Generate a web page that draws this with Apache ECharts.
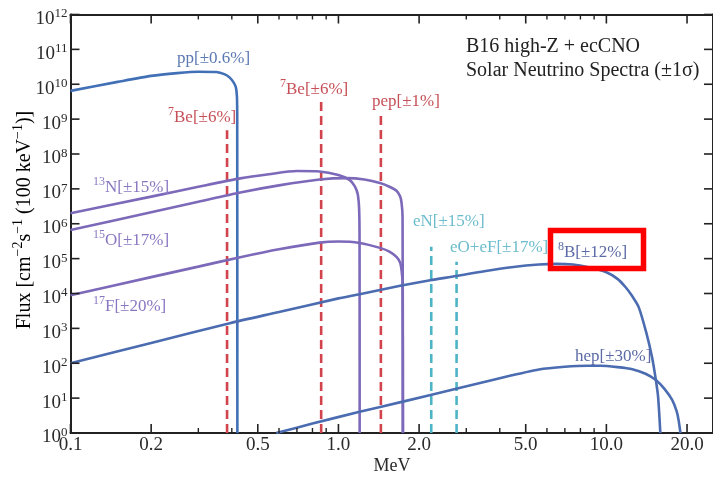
<!DOCTYPE html>
<html><head><meta charset="utf-8">
<style>html,body{margin:0;padding:0;background:#fff}#c{width:713px;height:477px}</style>
<script src="https://cdn.jsdelivr.net/npm/echarts@6/dist/echarts.min.js"></script>
</head><body><div id="c"></div>
<script>
// ---- data (MeV, flux in cm^-2 s^-1 per 100 keV) ----
const ppSpectrum = [[0.1,6.46e9],[0.15,1.17e10],[0.2,1.74e10],[0.25,2.09e10],[0.3,2.29e10],[0.35,2.24e10],[0.375,1.95e10],[0.393,1.55e10],[0.405,1.17e10],[0.414,8.3e9],[0.418,4.4e9],[0.419,1.0e9],[0.4195,1]];
const n13Spectrum = [[0.1,2.0e6],[0.2,6.0e6],[0.3,1.15e7],[0.43,2.0e7],[0.55,2.63e7],[0.7,3.24e7],[0.85,3.16e7],[1.0,2.51e7],[1.1,1.82e7],[1.15,1.2e7],[1.18,7.1e6],[1.195,2.5e6],[1.199,3.2e5],[1.2,1]];
const o15Spectrum = [[0.1,6.6e5],[0.2,2.14e6],[0.3,4.27e6],[0.43,7.9e6],[0.6,1.26e7],[0.85,1.86e7],[1.07,2.04e7],[1.25,1.86e7],[1.44,1.45e7],[1.55,1.15e7],[1.65,8.7e6],[1.7,6.0e6],[1.72,4.0e6],[1.735,1.6e6],[1.74,1]];
const f17Spectrum = [[0.1,8.9e3],[0.2,2.95e4],[0.3,5.9e4],[0.43,1.1e5],[0.6,1.86e5],[0.85,2.88e5],[1.0,3.09e5],[1.2,2.82e5],[1.44,2.0e5],[1.55,1.58e5],[1.65,1.1e5],[1.7,7.6e4],[1.72,4.7e4],[1.735,2.0e4],[1.74,1]];
const b8Spectrum = [[0.1,100],[0.2,380],[0.393,1410],[0.6,2950],[1.0,7240],[1.2,9550],[1.7,1.66e4],[2.2,2.4e4],[2.75,3.16e4],[3.5,4.37e4],[4.5,5.75e4],[5.6,6.76e4],[6.5,7.08e4],[7.5,6.76e4],[8.5,5.75e4],[10.0,4.07e4],[11.0,2.63e4],[11.8,1.51e4],[12.5,8300],[13.2,4070],[14.1,741],[14.8,151],[15.3,33],[15.6,10.7],[15.9,1]];
const hepSpectrum = [[0.586,1],[0.8,1.86],[1.2,4.07],[1.74,7.94],[2.8,19.1],[4.0,37.2],[5.6,66.1],[7.0,79.4],[8.5,85.1],[9.5,85.1],[11.0,77.6],[12.5,67.6],[14.0,50.1],[15.3,33.1],[16.5,18.2],[17.6,8.9],[18.3,4.17],[18.6,2.34],[18.9,1]];
// mono-energetic lines: [energy MeV, flux]
const be7Lines = [[0.384,4.8e8],[0.862,4.3e9]];
const pepLine = [[1.44,1.45e9]];
const ecnoLines = [[2.22,2.2e5],[2.76,8.1e4]];
// axes ticks
const xMajorTicks = [0.1,0.2,0.5,1,2,5,10,20];
const xTickLabels = ['0.1','0.2','0.5','1.0','2.0','5.0','10.0','20.0'];
const xMinorTicks = [0.3,0.4,0.6,0.7,0.8,0.9,3,4,6,7,8,9];
const yTickValues = [1,1e1,1e2,1e3,1e4,1e5,1e6,1e7,1e8,1e9,1e10,1e11,1e12];
const yTickExponents = ['0','1','2','3','4','5','6','7','8','9','10','11','12'];

const FONT = '"Liberation Serif", "DejaVu Serif", serif';
const X_MIN = 0.1, X_MAX = 25, Y_MIN = 1, Y_MAX = 1e12;
const AX = '#222';

function solid(name, data, color){
  return {type:'line', name, data, showSymbol:false, symbol:'none', silent:true, z:3,
    smooth:0.25,
    lineStyle:{color, width:2.6}, xAxisIndex:0, yAxisIndex:0};
}
function spikes(name, lines, color){
  return lines.map((l,i)=>({type:'line', name:name+i, data:[[l[0],Y_MIN],[l[0],l[1]]], showSymbol:false, symbol:'none', silent:true, z:2,
    lineStyle:{color, width:2.6, type:[9,5]}}));
}
const supRich = (size, color) => ({
  b:{fontFamily:FONT, fontSize:size, color, lineHeight:size+3, verticalAlign:'bottom'},
  s:{fontFamily:FONT, fontSize:Math.round(size*0.7), color, lineHeight:Math.round(size*0.7), padding:[0,0,Math.round(size*0.45),0], verticalAlign:'bottom'}
});

const chart = echarts.init(document.getElementById('c'), null, {renderer:'canvas', width:713, height:477});

const axisCommon = {
  axisLine:{show:true, onZero:false, lineStyle:{color:AX, width:2}},
  axisTick:{show:false}, axisLabel:{show:false}, splitLine:{show:false}, minorTick:{show:false}, minorSplitLine:{show:false}
};

const blue = '#4170b6', blue2 = '#4b6cb0', purple = '#7c69b9', red = '#d1434d', cyan = '#4db3c6';

const series = [
  solid('pp', ppSpectrum, blue),
  solid('13N', n13Spectrum, purple),
  solid('15O', o15Spectrum, purple),
  solid('17F', f17Spectrum, purple),
  solid('8B', b8Spectrum, blue2),
  solid('hep', hepSpectrum, blue2),
  ...spikes('7Be', be7Lines, red),
  ...spikes('pep', pepLine, red),
  ...spikes('ecno', ecnoLines, cyan),
  { // x ticks + labels
    type:'custom', silent:true, z:10, clip:false,
    data: xMajorTicks.map((v,i)=>[v,Y_MIN,i]), encode:{x:0,y:1},
    renderItem:(params, api)=>{
      const v = api.value(0), i = api.value(2);
      const b = api.coord([v,Y_MIN]), t = api.coord([v,Y_MAX]);
      return {type:'group', children:[
        {type:'line', shape:{x1:b[0],y1:b[1],x2:b[0],y2:b[1]-9}, style:{stroke:AX,lineWidth:1.6}},
        {type:'line', shape:{x1:t[0],y1:t[1],x2:t[0],y2:t[1]+9}, style:{stroke:AX,lineWidth:1.6}},
        {type:'text', x:b[0], y:b[1]+12, style:{text:xTickLabels[i], fontFamily:FONT, fontSize:19, fill:'#2a2a2a', align:'center', verticalAlign:'middle'}}
      ]};
    }
  },
  { // x minor ticks
    type:'custom', silent:true, z:10, clip:false,
    data: xMinorTicks.map(v=>[v,Y_MIN]), encode:{x:0,y:1},
    renderItem:(params, api)=>{
      const v = api.value(0);
      const b = api.coord([v,Y_MIN]), t = api.coord([v,Y_MAX]);
      return {type:'group', children:[
        {type:'line', shape:{x1:b[0],y1:b[1],x2:b[0],y2:b[1]-5}, style:{stroke:AX,lineWidth:1.4}},
        {type:'line', shape:{x1:t[0],y1:t[1],x2:t[0],y2:t[1]+5}, style:{stroke:AX,lineWidth:1.4}}
      ]};
    }
  },
  { // y ticks + labels
    type:'custom', silent:true, z:10, clip:false,
    data: yTickValues.map((v,i)=>[X_MIN,v,i]), encode:{x:0,y:1},
    renderItem:(params, api)=>{
      const v = api.value(1), i = api.value(2);
      const l = api.coord([X_MIN,v]), r = api.coord([X_MAX,v]);
      return {type:'group', children:[
        {type:'line', shape:{x1:l[0],y1:l[1],x2:l[0]+9,y2:l[1]}, style:{stroke:AX,lineWidth:1.6}},
        {type:'line', shape:{x1:r[0],y1:r[1],x2:r[0]-9,y2:r[1]}, style:{stroke:AX,lineWidth:1.6}},
        {type:'text', x:l[0]-3, y:l[1]+4, style:{text:'{b|10}{s|'+yTickExponents[i]+'}', align:'right', verticalAlign:'middle',
          rich:{b:{fontFamily:FONT,fontSize:19,lineHeight:20,fill:'#2a2a2a',color:'#2a2a2a',verticalAlign:'bottom'},
                s:{fontFamily:FONT,fontSize:13,lineHeight:14,fill:'#2a2a2a',color:'#2a2a2a',padding:[0,0,8,0],verticalAlign:'bottom'}}}}
      ]};
    }
  }
];

function label(x, y, text, color, size, align){
  size = size || 17;
  return {type:'text', x, y, z:50, silent:true, style:{text, rich:supRich(size, color), fill:color, align:align||'left', verticalAlign:'middle', fontFamily:FONT, fontSize:size}};
}
const lblBlue = '#5b79b2', lblRed = '#c65058', lblPurple = '#8a77c2', lblCyan = '#6bbccc', lblB8 = '#5b6aa6';

const graphic = [
  label(177, 57, '{b|pp[±0.6%]}', lblBlue),
  label(168, 116, '{s|7}{b|Be[±6%]}', lblRed),
  label(280, 88, '{s|7}{b|Be[±6%]}', lblRed),
  label(372, 100, '{b|pep[±1%]}', lblRed),
  label(93, 186, '{s|13}{b|N[±15%]}', lblPurple),
  label(93, 239, '{s|15}{b|O[±17%]}', lblPurple),
  label(93, 305, '{s|17}{b|F[±20%]}', lblPurple),
  label(413, 220, '{b|eN[±15%]}', lblCyan),
  label(450, 246, '{b|eO+eF[±17%]}', lblCyan),
  label(558, 251, '{s|8}{b|B[±12%]}', lblB8),
  label(575, 355, '{b|hep[±30%]}', lblB8),
  label(466, 45, '{b|B16 high-Z + ecCNO}', '#222', 20),
  label(466, 69, '{b|Solar Neutrino Spectra (±1σ)}', '#222', 20),
  label(392, 465, '{b|MeV}', '#2a2a2a', 18, 'center'),
  {type:'text', x:23, y:220, rotation:Math.PI/2, z:50, silent:true,
   style:{text:'{b|Flux [cm}{s|−2}{b|s}{s|−1}{b| (100 keV}{s|−1}{b|)]}', rich:supRich(20,'#2a2a2a'), align:'center', verticalAlign:'middle', fontFamily:FONT, fontSize:20}},
  {type:'rect', z:100, silent:true, shape:{x:550.5, y:230.5, width:93, height:38}, style:{fill:'none', stroke:'#ff0000', lineWidth:5.5}}
];

chart.setOption({
  animation:false,
  backgroundColor:'#fff',
  grid:{left:70.5, top:14.5, right:-1, bottom:44, containLabel:false},
  xAxis:[
    Object.assign({type:'log', logBase:10, min:X_MIN, max:X_MAX, position:'bottom'}, axisCommon),
    Object.assign({type:'log', logBase:10, min:X_MIN, max:X_MAX, position:'top'}, axisCommon)
  ],
  yAxis:[
    Object.assign({type:'log', logBase:10, min:Y_MIN, max:Y_MAX, position:'left'}, axisCommon),
    Object.assign({type:'log', logBase:10, min:Y_MIN, max:Y_MAX, position:'right'}, axisCommon)
  ],
  series,
  graphic
});
</script>
</body></html>
